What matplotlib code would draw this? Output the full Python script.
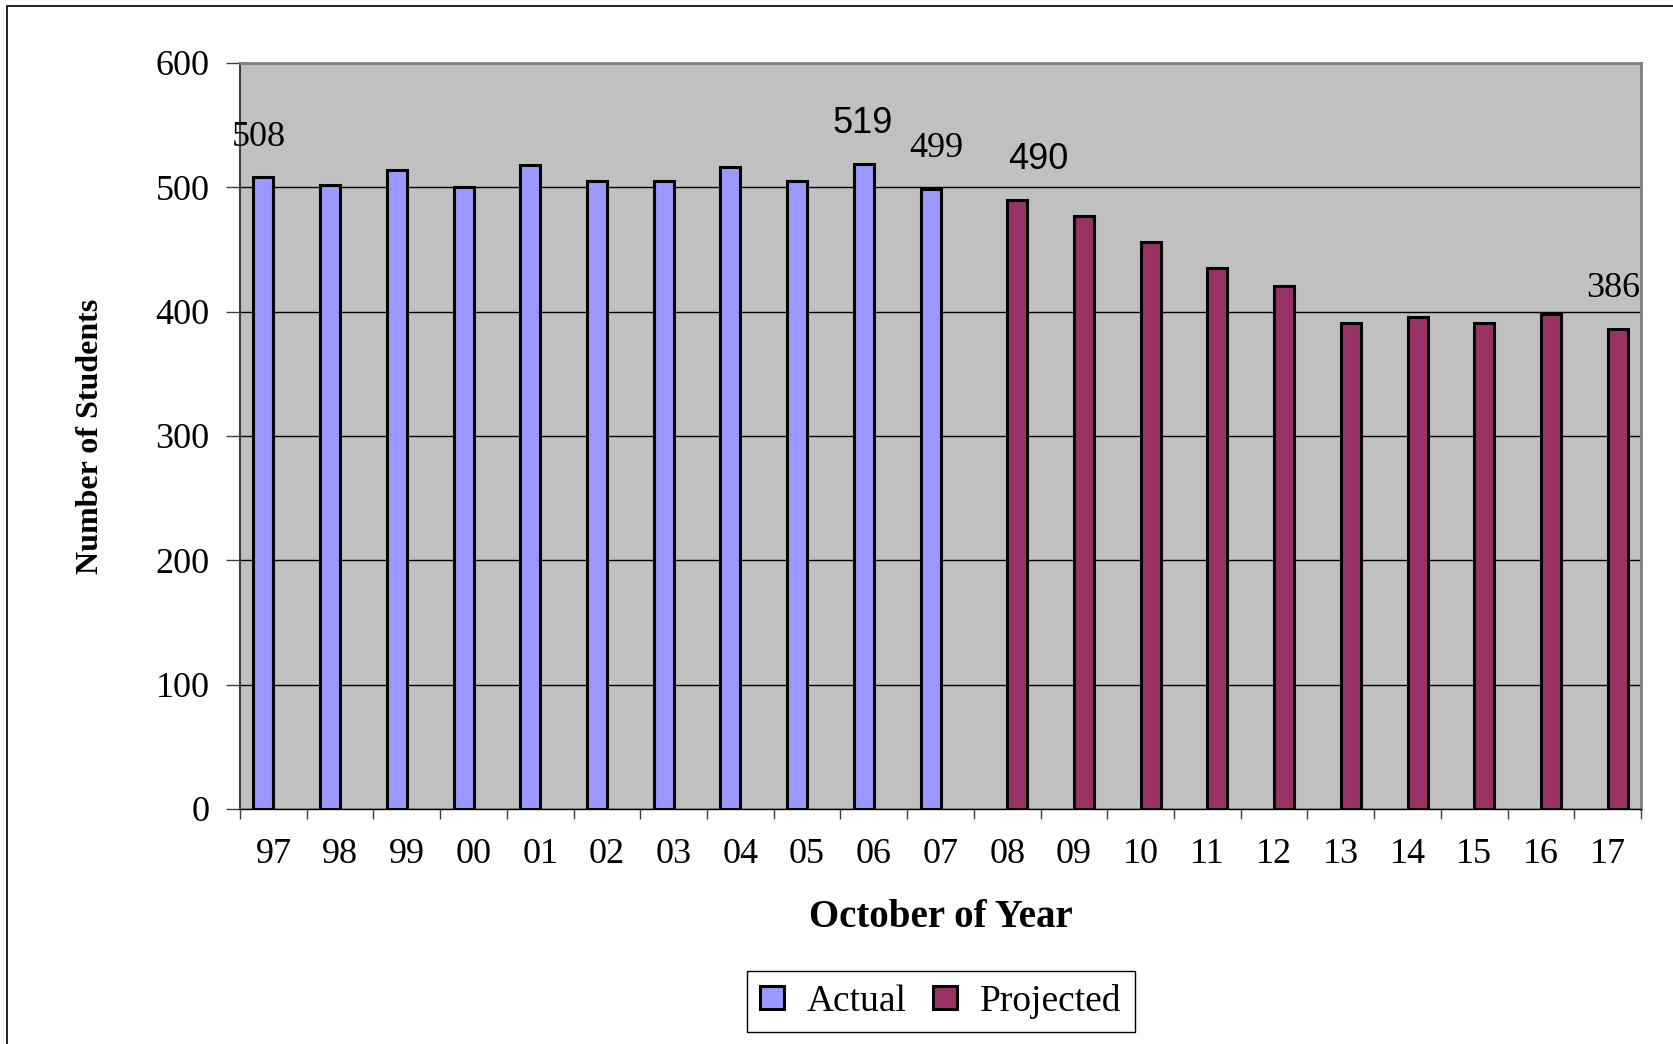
import matplotlib.pyplot as plt
import matplotlib.patches as mpatches
from matplotlib.ticker import FixedLocator
import numpy as np

plt.rcParams['font.family'] = ['Liberation Serif', 'DejaVu Serif']

# enrolment data, October of each year
years = ['97', '98', '99', '00', '01', '02', '03', '04', '05', '06', '07',
         '08', '09', '10', '11', '12', '13', '14', '15', '16', '17']
actual = [508, 502, 514, 500, 518, 505, 505, 516, 505, 519, 499]
projected = [490, 477, 456, 435, 421, 391, 396, 391, 398, 386]

# which bars get a value label (and in what font, like the original)
labelled = {'97': 'serif', '06': 'sans', '07': 'serif', '08': 'sans', '17': 'serif'}
label_dx = {'97': -3, '06': -1, '07': 4, '08': 15, '17': -3}

ACTUAL_COL = '#9999FF'
PROJ_COL = '#993366'
W = 0.3
FS = 26

fig = plt.figure(figsize=(16.74, 10.44), dpi=100)
ax = fig.add_axes([0.1434, 0.2251, 0.8369, 0.7146])
ax.set_facecolor('#C0C0C0')

idx = np.arange(len(years))
n_act = len(actual)
xa = idx[:n_act] - W / 2
xp = idx[n_act:] + W / 2

ax.bar(xa, actual, W, color=ACTUAL_COL, edgecolor='black', linewidth=2.2,
       label='Actual', zorder=3)
ax.bar(xp, projected, W, color=PROJ_COL, edgecolor='black', linewidth=2.2,
       label='Projected', zorder=3)

# value labels
values = actual + projected
xs = list(xa) + list(xp)
for i, yr in enumerate(years):
    if yr not in labelled:
        continue
    fam = ['Liberation Sans'] if labelled[yr] == 'sans' else ['Liberation Serif']
    ax.annotate(str(values[i]), (xs[i], values[i]),
                xytext=(label_dx[yr], 29), textcoords='offset points',
                ha='center', va='center', fontsize=FS, family=fam, zorder=4)

ax.set_xlim(-0.5, len(years) - 0.5)
ax.set_ylim(0, 600)

ax.set_yticks(np.arange(0, 601, 100))
ax.yaxis.grid(True, color='black', linewidth=1.0, zorder=1)
ax.set_axisbelow(True)

ax.set_xticks(idx)
ax.set_xticklabels(years)
ax.xaxis.set_minor_locator(FixedLocator(np.arange(-0.5, len(years), 1)))
ax.tick_params(axis='x', which='major', length=0, pad=21, labelsize=FS)
ax.tick_params(axis='x', which='minor', length=7, width=1, color='#404040', direction='out')
ax.tick_params(axis='y', length=10, width=1, color='#404040', direction='out',
               pad=12, labelsize=FS)

for side in ['top', 'right']:
    ax.spines[side].set_color('#808080')
    ax.spines[side].set_linewidth(2)
ax.spines['left'].set_color('#404040')
ax.spines['left'].set_linewidth(1.5)
ax.spines['bottom'].set_color('black')
ax.spines['bottom'].set_linewidth(1)

ax.set_xlabel('October of Year', fontsize=28, fontweight='bold', labelpad=20)
ax.set_ylabel('Number of Students', fontsize=23, fontweight='bold', labelpad=36)

leg = fig.legend(loc='center', bbox_to_anchor=(0.562, 0.041), ncol=2,
                 fontsize=27, frameon=True, fancybox=False, framealpha=1,
                 edgecolor='black', handlelength=0.65, handleheight=0.6,
                 handletextpad=0.6, columnspacing=0.7, borderpad=0.35)
leg.get_frame().set_linewidth(1)

# outer chart frame
fig.patches.append(mpatches.Rectangle((7 / 1674, -0.1), 1.1, 1.1 - 6 / 1044,
                                      transform=fig.transFigure, fill=False,
                                      edgecolor='black', linewidth=1.2))

plt.savefig('out.png', dpi=100)
